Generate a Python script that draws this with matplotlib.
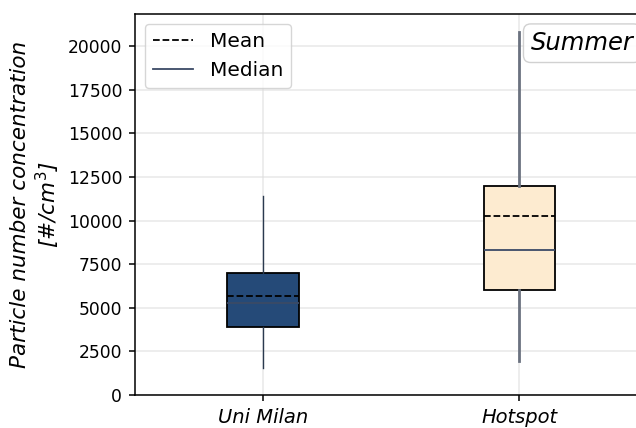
import matplotlib.pyplot as plt
from matplotlib.lines import Line2D

sites = ["Uni Milan", "Hotspot"]
whisker_low = [1550, 1950]
q1 = [3900, 6000]
median = [5250, 8300]
mean = [5700, 10250]
q3 = [7000, 12000]
whisker_high = [11400, 20800]

box_colors = ["#254a78", "#fdebd0"]
whisker_colors = ["#2b3a4f", "#6b7280"]
whisker_widths = [1.0, 2.0]

fig = plt.figure(figsize=(6.36, 4.28), dpi=100)
ax = fig.add_axes([0.2123, 0.0771, 0.806, 0.890])

stats = [
    dict(label=sites[i], whislo=whisker_low[i], q1=q1[i], med=median[i],
         mean=mean[i], q3=q3[i], whishi=whisker_high[i], fliers=[])
    for i in range(len(sites))
]
bp = ax.bxp(
    stats, positions=range(len(sites)), widths=0.28, patch_artist=True,
    showcaps=False, showmeans=True, meanline=True, showfliers=False,
    medianprops=dict(color="#3b4a66", linewidth=1.3),
    meanprops=dict(color="black", linestyle="--", linewidth=1.3),
    boxprops=dict(edgecolor="black", linewidth=1.3),
)
for i, box in enumerate(bp["boxes"]):
    box.set_facecolor(box_colors[i])
for i in range(len(sites)):
    for w in bp["whiskers"][2 * i:2 * i + 2]:
        w.set_color(whisker_colors[i])
        w.set_linewidth(whisker_widths[i])

ax.set_xlim(-0.5, 1.5)
ax.set_ylim(0, 21830)
ax.set_yticks(range(0, 20001, 2500))
ax.set_xticks(range(len(sites)))
ax.set_xticklabels(sites, fontstyle="italic", fontsize=14)
ax.tick_params(axis="y", labelsize=12.3)
ax.tick_params(length=4.6, width=1.1, pad=4.6)
ax.grid(True, color="#dddddd", alpha=0.6, linewidth=1.2)
ax.set_axisbelow(True)
ax.spines["right"].set_visible(False)
for side in ("left", "bottom", "top"):
    ax.spines[side].set_linewidth(1.1)

ax.set_ylabel("Particle number concentration\n[#/$cm^3$]",
              fontstyle="italic", fontsize=15.5, labelpad=4)

handles = [
    Line2D([], [], color="black", linestyle="--", linewidth=1.3, label="Mean"),
    Line2D([], [], color="#3b4a66", linewidth=1.3, label="Median"),
]
ax.legend(handles=handles, loc="upper left", fontsize=14.5)

ax.text(0.772, 0.955, "Summer", transform=ax.transAxes, ha="left", va="top",
        fontsize=17.5, fontstyle="italic",
        bbox=dict(boxstyle="round,pad=0.3", facecolor="white",
                  edgecolor="#cccccc", alpha=0.9))

fig.savefig("out.png", dpi=100)
